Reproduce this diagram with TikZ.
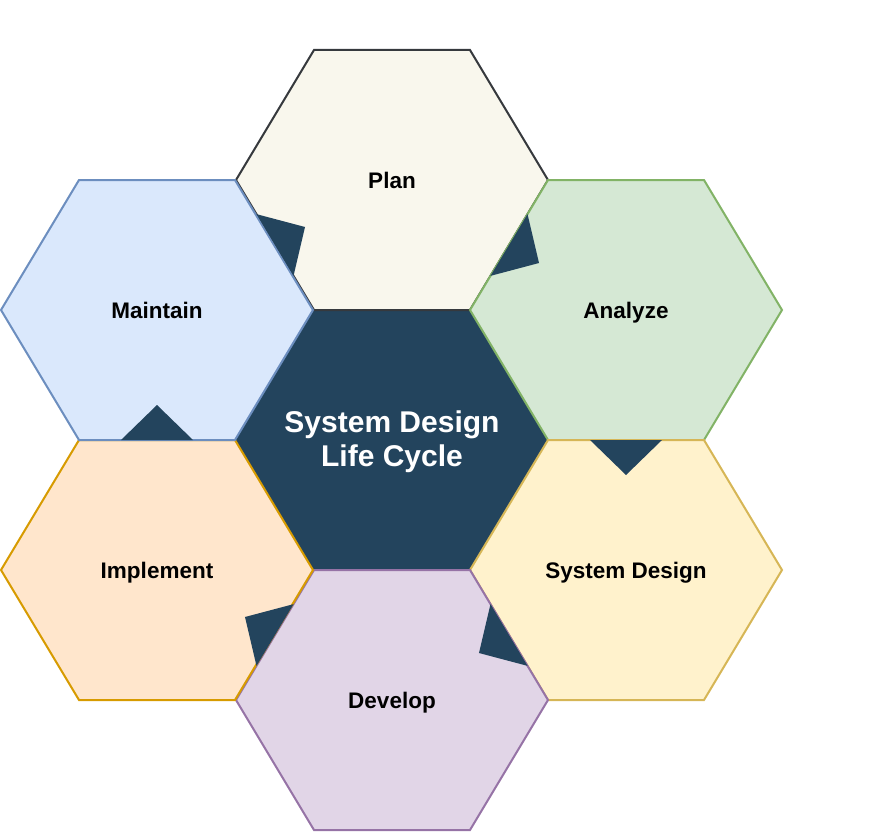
\documentclass[tikz,border=0pt]{standalone}
\usepackage{fontspec}
\setmainfont{Liberation Sans}
\usetikzlibrary{calc}
\definecolor{sd_navy}{HTML}{23445D}
\definecolor{plan_fill}{HTML}{F9F7ED}
\definecolor{plan_line}{HTML}{36393D}
\definecolor{maintain_fill}{HTML}{DAE8FC}
\definecolor{maintain_line}{HTML}{6C8EBF}
\definecolor{analyze_fill}{HTML}{D5E8D4}
\definecolor{analyze_line}{HTML}{82B366}
\definecolor{design_fill}{HTML}{FFF2CC}
\definecolor{design_line}{HTML}{D6B656}
\definecolor{develop_fill}{HTML}{E1D5E7}
\definecolor{develop_line}{HTML}{9673A6}
\definecolor{implement_fill}{HTML}{FFE6CC}
\definecolor{implement_line}{HTML}{D79B00}
\tikzstyle{cell}=[line width=2pt]
\tikzstyle{hub}=[cell,fill=sd_navy,draw=sd_navy]
\tikzstyle{plan}=[cell,fill=plan_fill,draw=plan_line]
\tikzstyle{maintain}=[cell,fill=maintain_fill,draw=maintain_line]
\tikzstyle{analyze}=[cell,fill=analyze_fill,draw=analyze_line]
\tikzstyle{design}=[cell,fill=design_fill,draw=design_line]
\tikzstyle{develop}=[cell,fill=develop_fill,draw=develop_line]
\tikzstyle{implement}=[cell,fill=implement_fill,draw=implement_line]
\tikzstyle{label}=[font=\bfseries\fontsize{22.5}{26}\selectfont,text=black,text depth=0pt]
\tikzstyle{title}=[font=\bfseries\fontsize{30}{34}\selectfont,text=white,align=center,yshift=-2pt]
\tikzstyle{tip}=[fill=sd_navy]
% name, x, y, cell style, text style, text
\newcommand{\hexcell}[6]{%
  \path[#4] (#2,#3) +(-156,0) coordinate (#1-l) -- +(-78,-130) coordinate (#1-tl)
    -- +(78,-130) coordinate (#1-tr) -- +(156,0) coordinate (#1-r)
    -- +(78,130) coordinate (#1-br) -- +(-78,130) coordinate (#1-bl) -- cycle;
  \node[#5] (#1) at (#2,#3) {#6};
}
% shared edge ends, tip on the left of the second
\newcommand{\flowtip}[2]{%
  \coordinate (mid) at ($(#1)!0.5!(#2)$);
  \fill[tip] ($(mid)!36pt!(#1)$) -- ($(mid)!35pt!90:(#2)$) -- ($(mid)!36pt!(#2)$) -- cycle;
}
\begin{document}
\begin{tikzpicture}[x=1pt, y=-1pt]
    \useasboundingbox (0,0) rectangle (872,832);
    \hexcell{hub}{392}{440}{hub}{title}{System Design\\Life Cycle}
    \hexcell{plan}{392}{180}{plan}{label}{Plan}
    \hexcell{analyze}{626}{310}{analyze}{label}{Analyze}
    \hexcell{design}{626}{570}{design}{label}{System Design}
    \hexcell{develop}{392}{700}{develop}{label}{Develop}
    \hexcell{implement}{157}{570}{implement}{label}{Implement}
    \hexcell{maintain}{157}{310}{maintain}{label}{Maintain}
    % cycle tips
    \flowtip{plan-l}{plan-bl}
    \flowtip{plan-r}{plan-br}
    \flowtip{analyze-br}{analyze-bl}
    \flowtip{design-bl}{design-l}
    \flowtip{develop-l}{develop-tl}
    \flowtip{implement-tl}{implement-tr}
\end{tikzpicture}
\end{document}
